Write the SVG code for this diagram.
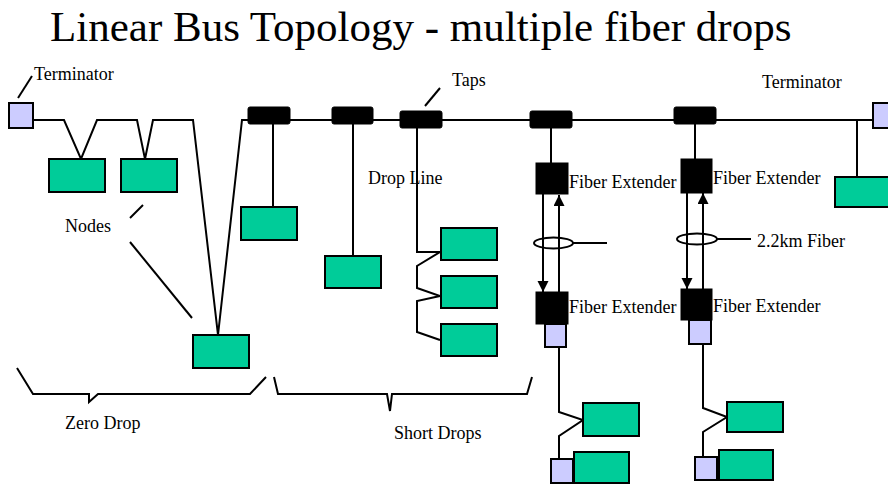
<svg xmlns="http://www.w3.org/2000/svg" width="888" height="484" viewBox="0 0 888 484">
<style>
.node{fill:#00CC99;stroke:#000;stroke-width:2}
.term{fill:#CCCCFF;stroke:#000;stroke-width:2}
.tap{fill:#000;stroke:#000;stroke-width:1}
.fe{fill:#000;stroke:#000;stroke-width:1}
.w{fill:none;stroke:#000;stroke-width:2;stroke-linejoin:miter}
.lbl{font-family:"Liberation Serif","Times New Roman",serif;font-size:18px;fill:#000}
.title{font-family:"Liberation Serif","Times New Roman",serif;font-size:43px;fill:#000}
</style>
<defs>
<marker id="arr" markerUnits="userSpaceOnUse" markerWidth="11" markerHeight="12" viewBox="0 0 11 12" refX="11" refY="5.5" orient="auto">
<path d="M0,0 L11,5.5 L0,11 Z" fill="#000"/>
</marker>
</defs>
<rect width="888" height="484" fill="#fff"/>
<text class="title" x="50" y="41">Linear Bus Topology - multiple fiber drops</text>

<g id="connectors">
<polyline class="w" points="33,120 64,120 81,159 97,120 137,120 145,159 153,120 193,120 218,335 242,120 873,120"/>
<line class="w" x1="273" y1="120" x2="273" y2="207"/>
<line class="w" x1="353" y1="120" x2="353" y2="256"/>
<polyline class="w" points="417,124 417,252 440,252 417,266 417,288 440,296 417,301 417,332 440,340"/>
<line class="w" x1="551" y1="124" x2="551" y2="163"/>
<line class="w" x1="695" y1="120" x2="695" y2="159"/>
<line class="w" x1="857" y1="120" x2="857" y2="177"/>
<line class="w" x1="543" y1="194" x2="543" y2="292" marker-end="url(#arr)"/>
<line class="w" x1="559" y1="292" x2="559" y2="195" marker-end="url(#arr)"/>
<line class="w" x1="687" y1="193" x2="687" y2="289" marker-end="url(#arr)"/>
<line class="w" x1="703" y1="289" x2="703" y2="193" marker-end="url(#arr)"/>
<ellipse class="w" cx="553.5" cy="243" rx="19.5" ry="5.5"/>
<line class="w" x1="573" y1="243" x2="607" y2="243"/>
<ellipse class="w" cx="697" cy="239" rx="20" ry="5.5"/>
<line class="w" x1="717" y1="239" x2="751" y2="239"/>
<polyline class="w" points="559,347 559,412 583,420 559,436 559,459"/>
<polyline class="w" points="703,344 703,408 727,417 703,432 703,457"/>
<line class="w" x1="18" y1="98" x2="32" y2="76"/>
<line class="w" x1="425" y1="106" x2="440" y2="88"/>
<line class="w" x1="130" y1="218" x2="143" y2="205"/>
<line class="w" x1="130" y1="242" x2="192" y2="318"/>
<polyline class="w" points="17,368 33,394 89,394 89,402 98,394 250,394 266,377"/>
<polyline class="w" points="274,377 278,394 387,394 390,411 392,394 527,394 532,377"/>
</g>

<g id="term-left"><rect class="term" x="9" y="103" width="24" height="25"/></g>
<g id="term-right"><rect class="term" x="873" y="103" width="24" height="25"/></g>

<g id="tap1"><rect class="tap" x="248" y="107" width="42" height="17" rx="2"/></g>
<g id="tap2"><rect class="tap" x="332" y="107" width="41" height="17" rx="2"/></g>
<g id="tap3"><rect class="tap" x="400" y="111" width="42" height="17" rx="2"/></g>
<g id="tap4"><rect class="tap" x="530" y="111" width="42" height="17" rx="2"/></g>
<g id="tap5"><rect class="tap" x="674" y="107" width="42" height="17" rx="2"/></g>

<g id="node-z1"><rect class="node" x="49" y="159" width="56" height="33"/></g>
<g id="node-z2"><rect class="node" x="121" y="159" width="56" height="33"/></g>
<g id="node-z3"><rect class="node" x="193" y="335" width="56" height="33"/></g>
<g id="node-s1"><rect class="node" x="241" y="207" width="56" height="33"/></g>
<g id="node-s2"><rect class="node" x="325" y="256" width="56" height="32"/></g>
<g id="node-s3"><rect class="node" x="441" y="228" width="56" height="32"/></g>
<g id="node-s4"><rect class="node" x="441" y="276" width="56" height="32"/></g>
<g id="node-s5"><rect class="node" x="441" y="324" width="56" height="32"/></g>
<g id="node-r"><rect class="node" x="835" y="177" width="60" height="30"/></g>

<g id="fe1-top"><rect class="fe" x="536" y="163" width="32" height="31"/></g>
<g id="fe1-bot"><rect class="fe" x="536" y="292" width="32" height="32"/></g>
<g id="fe1-term"><rect class="term" x="545" y="324" width="21" height="23"/></g>
<g id="fe2-top"><rect class="fe" x="681" y="159" width="31" height="34"/></g>
<g id="fe2-bot"><rect class="fe" x="681" y="289" width="31" height="31"/></g>
<g id="fe2-term"><rect class="term" x="689" y="320" width="22" height="24"/></g>

<g id="node-f1a"><rect class="node" x="583" y="403" width="56" height="33"/></g>
<g id="node-f1b"><rect class="term" x="551" y="459" width="22" height="24"/><rect class="node" x="574" y="452" width="55" height="31"/></g>
<g id="node-f2a"><rect class="node" x="727" y="402" width="56" height="30"/></g>
<g id="node-f2b"><rect class="term" x="695" y="457" width="22" height="23"/><rect class="node" x="719" y="450" width="54" height="30"/></g>

<g id="labels">
<text class="lbl" x="34" y="80">Terminator</text>
<text class="lbl" x="762" y="88">Terminator</text>
<text class="lbl" x="452" y="86">Taps</text>
<text class="lbl" x="368" y="184">Drop Line</text>
<text class="lbl" x="65" y="232">Nodes</text>
<text class="lbl" x="569" y="188">Fiber Extender</text>
<text class="lbl" x="713" y="184">Fiber Extender</text>
<text class="lbl" x="569" y="313">Fiber Extender</text>
<text class="lbl" x="713" y="312">Fiber Extender</text>
<text class="lbl" x="757" y="247">2.2km Fiber</text>
<text class="lbl" x="65" y="429">Zero Drop</text>
<text class="lbl" x="394" y="439">Short Drops</text>
</g>
</svg>
